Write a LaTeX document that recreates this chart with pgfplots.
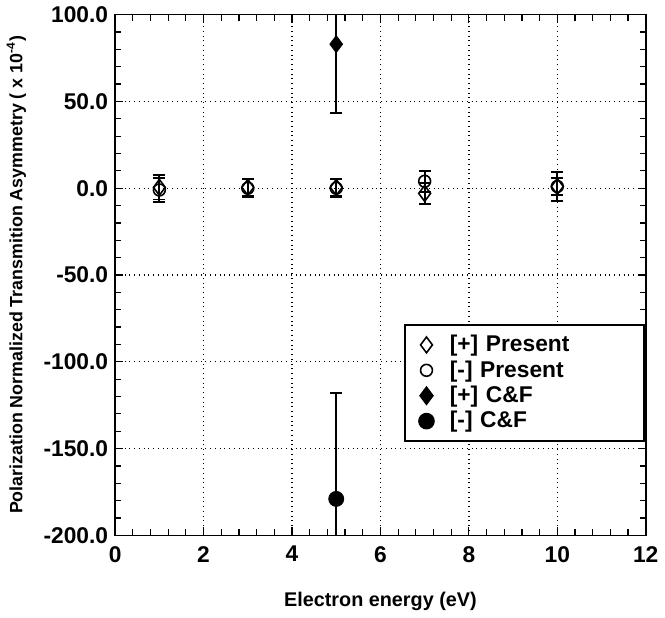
\documentclass[border=0pt]{standalone}
\usepackage{pgfplots}
\pgfplotsset{compat=1.18}
\usepackage{fontspec}
\setmainfont{Liberation Sans}

\begin{document}
\begin{tikzpicture}
\begin{axis}[
  scale only axis,
  width=268pt, height=263pt,
  xmin=0, xmax=12, ymin=-200, ymax=100,
  xtick={0,2,...,12},
  ytick={-200,-150,...,100},
  minor x tick num=4,
  minor y tick num=4,
  tick align=inside,
  major tick length=4pt,
  minor tick length=3pt,
  axis line style={line width=0.8pt},
  every tick/.style={black, line width=0.6pt},
  grid=major,
  major grid style={black, dotted, line width=0.7pt},
  /pgf/number format/assume math mode=true,
  yticklabel style={/pgf/number format/.cd, fixed, fixed zerofill, precision=1},
  tick label style={font=\fontsize{11.5}{13}\selectfont\bfseries},
  xticklabel style={yshift=-2pt},
  xlabel style={font=\fontsize{10}{12}\selectfont\bfseries, yshift=-8pt},
  ylabel style={font=\fontsize{9}{11}\selectfont\bfseries, yshift=2pt},
  xlabel={Electron energy (eV)},
  ylabel={Polarization Normalized Transmition Asymmetry ( x 10\textsuperscript{-4})},
  legend cell align=left,
  legend style={
    at={(0.545,0.405)}, anchor=north west,
    draw=black, line width=0.8pt,
    font=\fontsize{11.5}{13}\selectfont\bfseries,
    row sep=0pt, inner xsep=7pt, inner ysep=3.5pt,
    nodes={inner ysep=1.5pt},
    text width=95pt
  },
]
  % [+] Present
  \addplot+[only marks, black, mark=diamond, mark size=4pt,
    mark options={line width=0.8pt, fill=white},
    error bars/.cd, y dir=both, y explicit,
    error bar style={line width=0.9pt},
    error mark options={rotate=90, mark size=3pt, line width=0.9pt}
  ] coordinates {
    (1, 0.5) +- (0, 7)
    (3, 0.5) +- (0, 5)
    (5, 0.5) +- (0, 5)
    (7, -3) +- (0, 6)
    (10, 1) +- (0, 8.5)
  };
  \addlegendentry{\hspace{6pt}[+] Present}

  % [-] Present
  \addplot+[only marks, black, mark=o, mark size=3pt,
    mark options={line width=0.8pt},
    error bars/.cd, y dir=both, y explicit,
    error bar style={line width=0.9pt},
    error mark options={rotate=90, mark size=3pt, line width=0.9pt}
  ] coordinates {
    (1, -1) +- (0, 7)
    (3, 0) +- (0, 5)
    (5, 0) +- (0, 5)
    (7, 4) +- (0, 6)
    (10, 1) +- (0, 5)
  };
  \addlegendentry{\hspace{6pt}[-] Present}

  % [+] C&F
  \addplot+[only marks, black, mark=diamond*, mark size=4.3pt,
    mark options={fill=black},
    error bars/.cd, y dir=both, y explicit,
    error bar style={line width=0.9pt},
    error mark options={rotate=90, mark size=3pt, line width=0.9pt}
  ] coordinates {
    (5, 83) +- (0, 39.5)
  };
  \addlegendentry{\hspace{6pt}[+] C\&F}

  % [-] C&F
  \addplot+[only marks, black, mark=*, mark size=3.8pt,
    mark options={fill=black},
    error bars/.cd, y dir=both, y explicit,
    error bar style={line width=0.9pt},
    error mark options={rotate=90, mark size=3pt, line width=0.9pt}
  ] coordinates {
    (5, -179) +- (0, 61)
  };
  \addlegendentry{\hspace{6pt}[-] C\&F}
\end{axis}
\end{tikzpicture}
\end{document}
